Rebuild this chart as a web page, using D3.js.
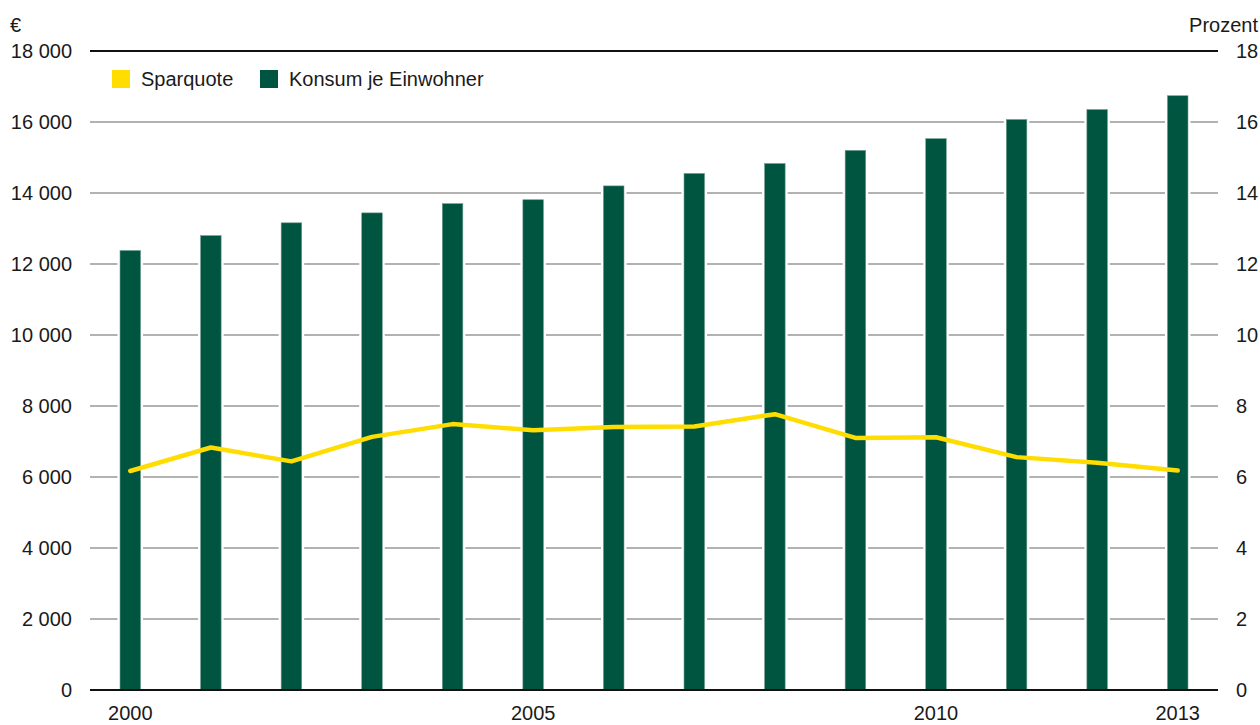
<!DOCTYPE html>
<html><head><meta charset="utf-8">
<script src="https://cdn.jsdelivr.net/npm/d3@7"></script>
<style>body{margin:0;background:#fff}text{font-family:"Liberation Sans",Arial,sans-serif;fill:#1a1a1a}</style>
</head><body><svg id="c" width="1260" height="725"></svg>
<script>
const years = [2000,2001,2002,2003,2004,2005,2006,2007,2008,2009,2010,2011,2012,2013];
const konsum = [12380,12800,13160,13440,13700,13810,14200,14550,14830,15200,15530,16070,16350,16740];
const sparquote = [6.17,6.83,6.44,7.13,7.49,7.32,7.41,7.42,7.77,7.10,7.12,6.56,6.40,6.18];
const leftTicks = [0,2000,4000,6000,8000,10000,12000,14000,16000,18000];
const rightTicks = [0,2,4,6,8,10,12,14,16,18];
const xTickYears = [2000,2005,2010,2013];

const svg = d3.select("#c");
const L = 90, R = 1218, T = 51, B = 690;
const x = d3.scaleBand().domain(years).range([L,R]).paddingInner(0.745).paddingOuter(0.3725);
const xc = d => x(d) + x.bandwidth()/2;
const yL = d3.scaleLinear().domain([0,18000]).range([B,T]);
const yR = d3.scaleLinear().domain([0,18]).range([B,T]);
const fmt = v => d3.format(",")(v).replace(/,/g," ");

svg.append("g").selectAll("line").data(leftTicks.filter(v=>v>0&&v<18000)).join("line")
  .attr("x1",L).attr("x2",R).attr("y1",d=>yL(d)).attr("y2",d=>yL(d))
  .attr("stroke","#999").attr("stroke-width",1.6);
svg.append("line").attr("x1",L).attr("x2",R).attr("y1",yL(18000)).attr("y2",yL(18000)).attr("stroke","#111").attr("stroke-width",2);

svg.append("g").selectAll("rect").data(years).join("rect")
  .attr("x",d=>x(d)-2.5).attr("width",x.bandwidth()+5)
  .attr("y",(d,i)=>yL(konsum[i])).attr("height",(d,i)=>B-yL(konsum[i]))
  .attr("fill","#fff");
svg.append("g").selectAll("rect").data(years).join("rect")
  .attr("x",d=>x(d)).attr("width",x.bandwidth())
  .attr("y",(d,i)=>yL(konsum[i])).attr("height",(d,i)=>B-yL(konsum[i]))
  .attr("fill","#005541").attr("stroke","#6f9c8e").attr("stroke-width",0.6);

svg.append("line").attr("x1",L).attr("x2",R).attr("y1",B).attr("y2",B).attr("stroke","#111").attr("stroke-width",2);

const line = d3.line().x((d,i)=>xc(years[i])).y(d=>yR(d));
svg.append("path").datum(sparquote).attr("d",line).attr("fill","none")
  .attr("stroke","#FFDD00").attr("stroke-width",4.5).attr("stroke-linejoin","round").attr("stroke-linecap","round");

const fs = 20;
svg.append("g").selectAll("text").data(leftTicks).join("text")
  .attr("x",72).attr("y",d=>yL(d)).attr("dy","0.35em").attr("text-anchor","end")
  .attr("font-size",fs).text(d=>fmt(d));
svg.append("g").selectAll("text").data(rightTicks).join("text")
  .attr("x",1236).attr("y",d=>yR(d)).attr("dy","0.35em").attr("text-anchor","start")
  .attr("font-size",fs).text(d=>d);
svg.append("g").selectAll("text").data(xTickYears).join("text")
  .attr("x",d=>xc(d)).attr("y",713).attr("dy","0.35em").attr("text-anchor","middle")
  .attr("font-size",fs).text(d=>d);
svg.append("text").attr("x",10).attr("y",25).attr("dy","0.35em").attr("font-size",fs).text("€");
svg.append("text").attr("x",1258).attr("y",25).attr("dy","0.35em").attr("text-anchor","end").attr("font-size",fs).text("Prozent");

const leg = [{label:"Sparquote",color:"#FFDD00",x:112},{label:"Konsum je Einwohner",color:"#005541",x:260}];
const lg = svg.append("g").selectAll("g").data(leg).join("g");
lg.append("rect").attr("x",d=>d.x).attr("y",70).attr("width",18).attr("height",18).attr("fill",d=>d.color);
lg.append("text").attr("x",d=>d.x+29).attr("y",79).attr("dy","0.35em").attr("font-size",fs).text(d=>d.label);
</script></body></html>
